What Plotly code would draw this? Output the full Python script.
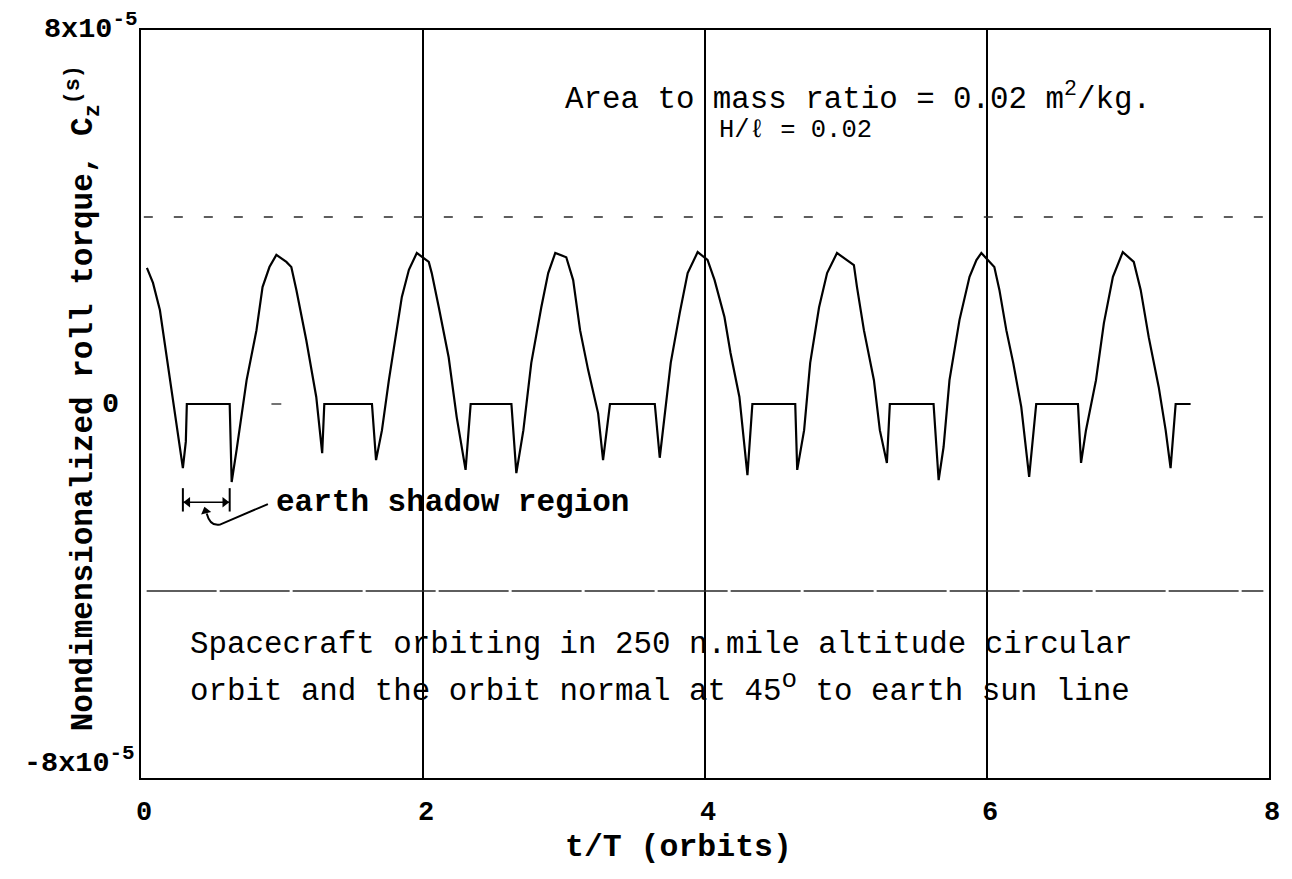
import plotly.graph_objects as go

# Roll torque history: t/T in orbits, C_z^(s) in units of 1e-5
t_orbits = [
    0.042, 0.085, 0.134, 0.184, 0.219, 0.261, 0.297, 0.318, 0.325,
    0.629, 0.643, 0.678, 0.749, 0.819, 0.862, 0.911, 0.960, 1.031, 1.066, 1.102,
    1.172, 1.243, 1.285, 1.300,
    1.638, 1.667, 1.709, 1.758, 1.808, 1.850, 1.900, 1.956, 2.041, 2.062, 2.112,
    2.182, 2.239, 2.302, 2.338,
    2.627, 2.662, 2.712, 2.768, 2.839, 2.888, 2.938, 3.016, 3.065, 3.114, 3.171,
    3.242, 3.277, 3.326,
    3.644, 3.679, 3.715, 3.757, 3.821, 3.877, 3.948, 4.018, 4.068, 4.138, 4.181,
    4.244, 4.301, 4.336,
    4.640, 4.654, 4.703, 4.746, 4.809, 4.866, 4.936, 5.056, 5.078, 5.127, 5.198,
    5.240, 5.290, 5.311,
    5.621, 5.657, 5.692, 5.734, 5.805, 5.876, 5.925, 5.960, 6.052, 6.088, 6.137,
    6.186, 6.243, 6.299, 6.349,
    6.645, 6.667, 6.702, 6.773, 6.829, 6.893, 6.963, 7.041, 7.090, 7.147, 7.218,
    7.267, 7.302, 7.338, 7.444,
]
roll_torque = [
    2.91, 2.59, 2.01, 1.00, 0.30, -0.56, -1.37, -0.80, 0.00,
    0.00, -1.67, -0.98, 0.51, 1.58, 2.50, 2.93, 3.19, 3.04, 2.93, 2.44,
    1.37, 0.15, -1.05, 0.00,
    0.00, -1.20, -0.56, 0.51, 1.43, 2.29, 2.87, 3.23, 3.04, 2.80, 2.07,
    1.00, -0.28, -1.41, 0.00,
    0.00, -1.48, -0.56, 0.88, 2.07, 2.80, 3.23, 3.14, 2.65, 1.58, 0.73,
    -0.20, -1.20, 0.00,
    0.00, -1.15, -0.20, 0.88, 1.95, 2.80, 3.25, 3.08, 2.65, 1.86, 1.09,
    0.15, -1.52, 0.00,
    0.00, -1.41, -0.56, 0.88, 2.07, 2.80, 3.23, 2.97, 2.50, 1.58, 0.51,
    -0.56, -1.26, 0.00,
    0.00, -1.63, -0.92, 0.51, 1.80, 2.72, 3.08, 3.23, 2.93, 2.44, 1.58,
    0.88, -0.06, -1.56, 0.00,
    0.00, -1.26, -0.56, 0.51, 1.73, 2.72, 3.25, 3.04, 2.44, 1.43, 0.36,
    -0.56, -1.37, 0.00, 0.00,
]

# Short stray trace segment at zero under the first peak
stray_t = [0.925, 0.995]
stray_v = [0.0, 0.0]

# Reference torque levels (dashed), same units
upper_level = 4.0
lower_level = -4.0

# Earth shadow interval during the first orbit
shadow_start = 0.297
shadow_end = 0.629
shadow_marker_y = -2.1

x_ticks = [0, 2, 4, 6, 8]
x_tick_text = ["0", "2", "4", "6", "8"]
y_ticks = [8, 0, -8]
y_tick_text = [
    "8x10<sup><span style='font-size:21px'>-5</span></sup>",
    "0",
    "-8x10<sup><span style='font-size:21px'>-5</span></sup>",
]

MONO = "Liberation Mono, Courier New, monospace"
INK = "#000000"

fig = go.Figure()

fig.add_trace(go.Scatter(
    x=[0.02, 7.98], y=[upper_level, upper_level], mode="lines",
    line=dict(color="#2a2a2a", width=1.5, dash="9px,21px"), hoverinfo="skip",
))
fig.add_trace(go.Scatter(
    x=[0.04, 7.96], y=[lower_level, lower_level], mode="lines",
    line=dict(color="#2a2a2a", width=1.6, dash="70px,3px"), hoverinfo="skip",
))
fig.add_trace(go.Scatter(
    x=t_orbits, y=roll_torque, mode="lines",
    line=dict(color=INK, width=2.2), hoverinfo="skip",
))
fig.add_trace(go.Scatter(
    x=stray_t, y=stray_v, mode="lines",
    line=dict(color="#444444", width=1.5), hoverinfo="skip",
))

# Shadow-region bracket: span line with inward-facing arrowheads at both ends
fig.add_trace(go.Scatter(
    x=[shadow_start, shadow_end], y=[shadow_marker_y, shadow_marker_y],
    mode="lines", line=dict(color=INK, width=1.6), hoverinfo="skip",
))
fig.add_trace(go.Scatter(
    x=[shadow_start + 0.035, shadow_end - 0.035],
    y=[shadow_marker_y, shadow_marker_y],
    mode="markers", marker=dict(symbol=["triangle-left", "triangle-right"],
                                size=9, color=INK),
    hoverinfo="skip",
))
for xe in (shadow_start, shadow_end):
    fig.add_shape(type="line", xref="x", yref="y", x0=xe, x1=xe,
                  y0=shadow_marker_y + 0.3, y1=shadow_marker_y - 0.2,
                  line=dict(color=INK, width=2))

# Leader from the label to the bracket, ending in an arrowhead
fig.add_shape(type="path", xref="x", yref="y",
              path="M 0.466,-2.34 Q 0.49,-2.62 0.56,-2.58 L 0.90,-2.14",
              line=dict(color=INK, width=2))
fig.add_trace(go.Scatter(
    x=[0.458], y=[-2.29], mode="markers",
    marker=dict(symbol="triangle-up", size=9, color=INK, angle=-15),
    hoverinfo="skip",
))
fig.add_annotation(
    x=0.946, y=shadow_marker_y, xref="x", yref="y", xanchor="left", yanchor="middle",
    text="earth shadow region", showarrow=False,
    font=dict(family=MONO, size=31, color=INK, weight="bold"),
)

# Parameter notes
fig.add_annotation(
    x=0.374, y=0.910, xref="paper", yref="paper", xanchor="left", yanchor="middle",
    text="Area to mass ratio = 0.02 m<sup>2</sup>/kg.", showarrow=False,
    font=dict(family=MONO, size=30.8, color=INK),
)
fig.add_annotation(
    x=0.511, y=0.865, xref="paper", yref="paper", xanchor="left", yanchor="middle",
    text="H/\u2113 = 0.02", showarrow=False,
    font=dict(family=MONO, size=25.5, color=INK),
)
fig.add_annotation(
    x=0.0415, y=0.178, xref="paper", yref="paper", xanchor="left", yanchor="middle",
    text="Spacecraft orbiting in 250 n.mile altitude circular", showarrow=False,
    font=dict(family=MONO, size=30.8, color=INK),
)
fig.add_annotation(
    x=0.0415, y=0.121, xref="paper", yref="paper", xanchor="left", yanchor="middle",
    text="orbit and the orbit normal at 45<sup><span style='font-size:26px'>o</span></sup> to earth sun line",
    showarrow=False,
    font=dict(family=MONO, size=30.8, color=INK),
)

# Y tick labels, set against the frame
y_label_shift = {8: (-1, 3), 0: (-20, 0), -8: (-4, 17)}
for val, txt in zip(y_ticks, y_tick_text):
    dx, dy = y_label_shift[val]
    fig.add_annotation(
        x=0, y=val, xref="paper", yref="y", xanchor="right", yanchor="middle",
        xshift=dx, yshift=dy, text=txt, showarrow=False,
        font=dict(family=MONO, size=28.5, color=INK, weight="bold"),
    )

# Axis titles
fig.add_annotation(
    x=0.4766, y=-0.0925, xref="paper", yref="paper", xanchor="center", yanchor="middle",
    text="t/T (orbits)", showarrow=False,
    font=dict(family=MONO, size=31.5, color=INK, weight="bold"),
)
fig.add_annotation(
    x=-0.0512, y=0.508, xref="paper", yref="paper", xanchor="center", yanchor="middle",
    textangle=-90,
    text="Nondimensionalized roll torque, C<sub>z</sub><sup>(s)</sup>", showarrow=False,
    font=dict(family=MONO, size=31, color=INK, weight="bold"),
)

fig.update_xaxes(
    range=[0, 8], tickvals=x_ticks, ticktext=x_tick_text,
    showgrid=True, gridcolor=INK, gridwidth=1.6,
    showline=True, mirror=True, linecolor=INK, linewidth=2,
    zeroline=False, ticks="", ticklabelstandoff=8, ticklabelshift=3,
    tickfont=dict(family=MONO, size=27, color=INK, weight="bold"),
)
fig.update_yaxes(
    range=[-8, 8], tickvals=y_ticks, showticklabels=False,
    showgrid=False, showline=True, mirror=True, linecolor=INK, linewidth=2,
    zeroline=False, ticks="",
)

fig.update_layout(
    width=1292, height=879,
    margin=dict(l=141, r=18, t=30, b=101),
    plot_bgcolor="white", paper_bgcolor="white",
    showlegend=False,
)

fig.write_html("out.html")
